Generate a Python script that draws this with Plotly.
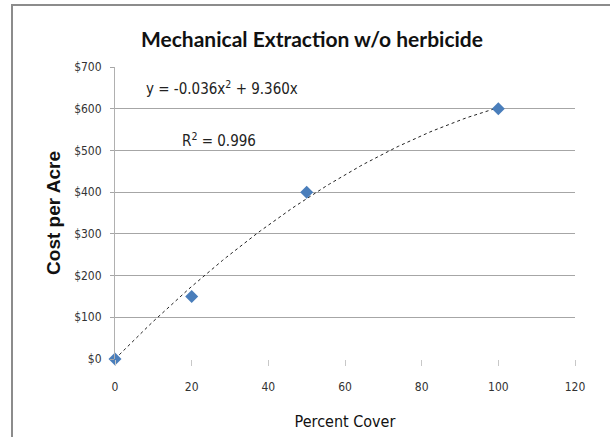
import numpy as np
import plotly.graph_objects as go

# Data
percent_cover = [0, 20, 50, 100]
cost_per_acre = [0, 150, 400, 600]
equation_label = "y = -0.036x<sup>2</sup> + 9.360x"
r_squared = 0.996
x_ticks = [0, 20, 40, 60, 80, 100, 120]
y_ticks = [0, 100, 200, 300, 400, 500, 600, 700]
y_tick_labels = ["$%d" % v for v in y_ticks]

# Polynomial (order 2, zero intercept) trendline fitted from the data points
xa = np.array(percent_cover, dtype=float)
ya = np.array(cost_per_acre, dtype=float)
coef, *_ = np.linalg.lstsq(np.column_stack([xa**2, xa]), ya, rcond=None)
tx = np.linspace(0, xa.max(), 101)
ty = coef[0] * tx**2 + coef[1] * tx

fig = go.Figure()
fig.add_trace(go.Scatter(x=tx, y=ty, mode="lines",
                         line=dict(color="#222222", width=1, dash="dot"),
                         hoverinfo="skip", showlegend=False))
fig.add_trace(go.Scatter(x=percent_cover, y=cost_per_acre, mode="markers",
                         marker=dict(symbol="diamond", size=10, color="#4a7ebb"),
                         cliponaxis=False, showlegend=False))

L, R, T, B = 115, 35, 67, 78
W, H = 610, 437
pw, ph = W - L - R, H - T - B

def px(xp):
    return (xp - L) / pw

def py(yp):
    return (H - B - yp) / ph

narrow = "Liberation Sans Narrow, DejaVu Sans Condensed, Arial"

fig.update_layout(
    width=W, height=H,
    margin=dict(l=L, r=R, t=T, b=B),
    paper_bgcolor="white", plot_bgcolor="white",
    title=dict(text="<b>Mechanical Extraction w/o herbicide</b>",
               x=px(312), xref="paper", xanchor="center",
               y=1 - 40 / H, yanchor="middle",
               font=dict(family="Lato, Arial", size=21, color="#111111")),
    xaxis=dict(range=[0, 120], tickvals=x_ticks, showgrid=False,
               showline=False, zeroline=False, automargin=False,
               ticks="outside", ticklen=6, tickcolor="#c8c8c8", tickwidth=1,
               ticklabelstandoff=11,
               tickfont=dict(family=narrow, size=12, color="#333333"),
               title=dict(text="Percent Cover", standoff=22,
                          font=dict(family=narrow, size=16, color="#111111"))),
    yaxis=dict(range=[0, 700], tickvals=y_ticks, ticktext=y_tick_labels,
               showgrid=True, gridcolor="#a6a6a6", gridwidth=1,
               showline=True, linecolor="#b0b0b0", linewidth=1,
               zeroline=False, automargin=False,
               ticks="outside", ticklen=4, tickcolor="#a6a6a6",
               ticklabelstandoff=6,
               tickfont=dict(family=narrow, size=12, color="#333333"),
               title=dict(text="<b>Cost per Acre</b>", standoff=8,
                          font=dict(family="Arial, Liberation Sans", size=19, color="#111111"))),
    annotations=[
        dict(text=equation_label, x=px(144), y=py(88),
             xref="paper", yref="paper", xanchor="left", yanchor="middle",
             showarrow=False, font=dict(family=narrow, size=15, color="#222222")),
        dict(text="R<sup>2</sup> = %.3f" % r_squared, x=px(180), y=py(140),
             xref="paper", yref="paper", xanchor="left", yanchor="middle",
             showarrow=False, font=dict(family=narrow, size=15, color="#222222")),
    ],
    shapes=[
        dict(type="line", xref="paper", yref="paper", x0=px(11), x1=px(611),
             y0=py(5), y1=py(5), line=dict(color="#8c8c8c", width=2)),
        dict(type="line", xref="paper", yref="paper", x0=px(12), x1=px(12),
             y0=py(5), y1=py(440), line=dict(color="#8c8c8c", width=2)),
    ],
)

fig.write_html("out.html")
